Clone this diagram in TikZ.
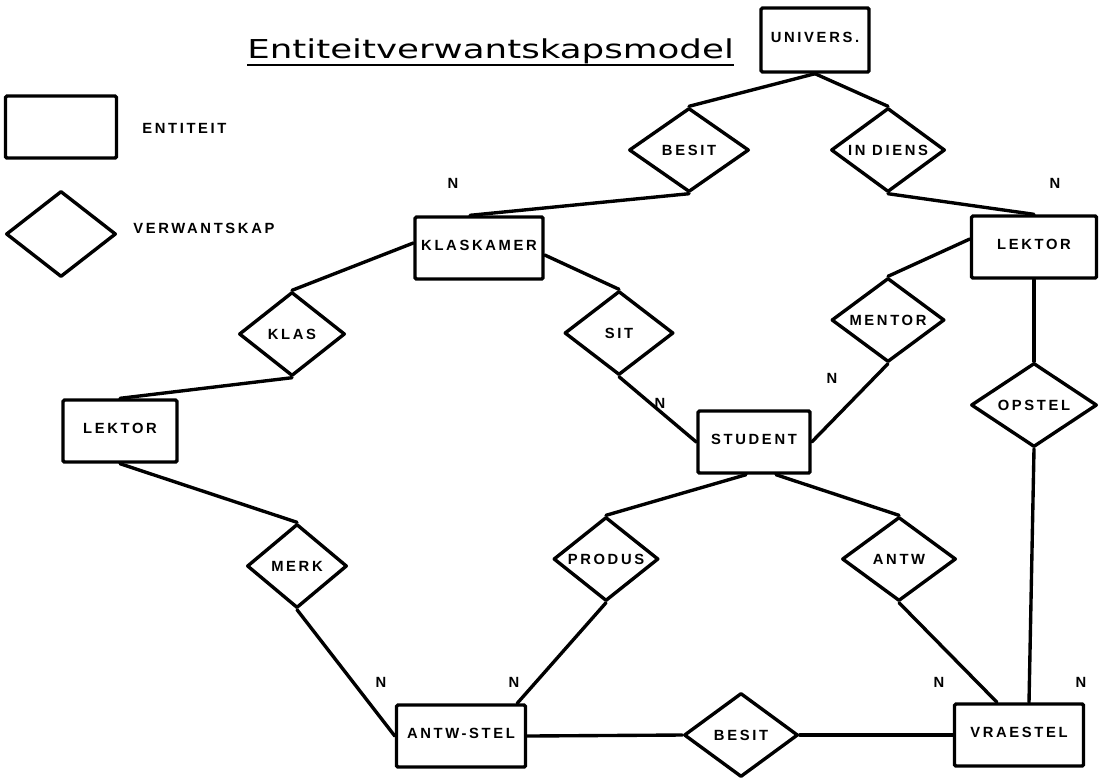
\documentclass[tikz,border=0pt]{standalone}
\usepackage{fontspec}
\usepackage{graphicx}
\setmainfont{Liberation Sans}
\newfontfamily\erfont[LetterSpace=18]{Liberation Sans}
\newfontfamily\titlefont{DejaVu Sans}
\usetikzlibrary{shapes.geometric, calc}

\begin{document}
\begin{tikzpicture}[
    x=0.025cm, y=-0.025cm,
    ent/.style={
      rectangle, rounded corners=1pt,
      draw=black, line width=2.4pt,
      minimum width=#1, minimum height=1.55cm,
      text height=7.5pt, text depth=4pt, inner sep=0pt,
      font=\erfont\bfseries\fontsize{10.5}{12}\selectfont
    },
    ent/.default=3cm,
    rel/.style={
      diamond, aspect=1.4,
      draw=black, line width=2.4pt, line join=round,
      minimum width=#1, minimum height=2.1cm, inner sep=0pt,
      font=\erfont\bfseries\fontsize{10.5}{12}\selectfont
    },
    rel/.default=2.8cm,
    link/.style={draw=black, line width=2.4pt, line cap=round},
    card/.style={
      inner sep=0pt,
      font=\erfont\bfseries\fontsize{10.5}{12}\selectfont
    }
  ]
  \useasboundingbox (0,0) rectangle (1103,779);

  % ---- Title ----
  \node[anchor=base west, inner sep=0pt,
        font=\titlefont\fontsize{18.5}{22}\selectfont]
    (title) at (247,58) {\scalebox{1.37}[1]{Entiteitverwantskapsmodel}};
  \draw[line width=1.8pt]
    ($(title.base west)+(0,7)$) -- ($(title.base east)+(0,7)$);

  % ---- Legend ----
  \node[ent=2.775cm] (legent) at (61,127) {};
  \node[card, anchor=west] (legenttext) at (142,128) {ENTITEIT};
  \node[rel=2.75cm, minimum height=2.15cm] (legrel) at (61,234) {};
  \node[card, anchor=west] (legreltext) at (133,228) {VERWANTSKAP};

  % ---- Entities ----
  \node[ent=2.7cm, minimum height=1.6cm] (UNIV) at (815,40)  {UNIVERS.};
  \node[ent=3.2cm]   (KK) at (479,248)  {KLASKAMER};
  \node[ent=3.125cm] (LR) at (1034,247) {LEKTOR};
  \node[ent=2.85cm]  (LL) at (120,431)  {LEKTOR};
  \node[ent=2.8cm]   (ST) at (754,442)  {STUDENT};
  \node[ent=3.225cm] (AS) at (461,736)  {ANTW-STEL};
  \node[ent=3.225cm] (VS) at (1019,735) {VRAESTEL};

  % ---- Relationships ----
  \node[rel=3.0cm]   (BES1) at (689,150) {BESIT};
  \node[rel=2.85cm]  (DIEN) at (888,150) {IN DIENS};
  \node[rel=2.65cm]  (KLAS) at (292,334) {KLAS};
  \node[rel=2.725cm] (SIT)  at (619,333) {SIT};
  \node[rel=2.825cm] (MEN)  at (888,320) {MENTOR};
  \node[rel=3.15cm]  (OPS)  at (1034,405) {OPSTEL};
  \node[rel=2.5cm]   (MERK) at (297,566) {MERK};
  \node[rel=2.625cm] (PRO)  at (606,559) {PRODUS};
  \node[rel=2.85cm]  (ANT)  at (899,559) {ANTW};
  \node[rel=2.85cm]  (BES2) at (741,735) {BESIT};

  % ---- Connectors ----
  \draw[link] (UNIV.south) -- (BES1.north);
  \draw[link] (UNIV.south) -- (DIEN.north);
  \draw[link] (BES1.south) -- ($(KK.north)+(-9,0)$);
  \draw[link] (DIEN.south) -- (LR.north);
  \draw[link] ($(KK.west)+(0,-5)$) -- (KLAS.north);
  \draw[link] (KLAS.south) -- (LL.north);
  \draw[link] ($(KK.east)+(0,7)$) -- (SIT.north);
  \draw[link] (SIT.south)  -- (ST.west);
  \draw[link] ($(LR.west)+(0,-8)$) -- (MEN.north);
  \draw[link] (MEN.south)  -- (ST.east);
  \draw[link] (LR.south)   -- (OPS.north);
  \draw[link] (OPS.south)  -- ($(VS.north)+(10,0)$);
  \draw[link] ($(ST.south)+(-8,0)$) -- (PRO.north);
  \draw[link] ($(ST.south)+(22,0)$) -- (ANT.north);
  \draw[link] (LL.south)   -- (MERK.north);
  \draw[link] (MERK.south) -- (AS.west);
  \draw[link] (PRO.south)  -- ($(AS.north east)+(-10,0)$);
  \draw[link] (ANT.south)  -- ($(VS.north)+(-22,0)$);
  \draw[link] (AS.east)    -- (BES2.west);
  \draw[link] (BES2.east)  -- (VS.west);

  % ---- Cardinalities ----
  \foreach \pos/\nm in {(453,183)/n1, (1055,183)/n2, (832,378)/n3, (660,403)/n4,
                        (381,682)/n5, (514,682)/n6, (939,682)/n7, (1081,682)/n8}{
    \node[card] (\nm) at \pos {N};
  }
\end{tikzpicture}
\end{document}
